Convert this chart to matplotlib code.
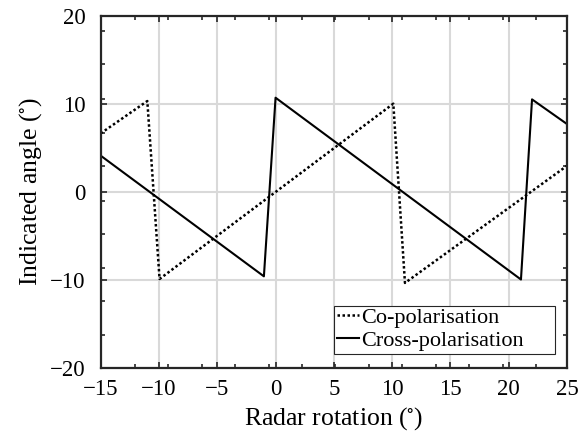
import matplotlib
matplotlib.use("Agg")
import matplotlib.pyplot as plt
from matplotlib.patches import Rectangle
from matplotlib.ticker import FixedLocator

plt.rcParams["font.family"] = ["Liberation Serif", "DejaVu Serif"]
plt.rcParams["mathtext.fontset"] = "stix"
plt.rcParams["axes.unicode_minus"] = True

# Co-polarisation (dotted) vertices
co_x = [-15, -11.0, -9.95, 10.1, 11.1, 25]
co_y = [6.63, 10.3, -9.9, 10.0, -10.35, 2.95]

# Cross-polarisation (solid) vertices
cross_x = [-15, -1.0, 0.0, 21.05, 22.0, 25]
cross_y = [4.1, -9.6, 10.68, -9.96, 10.49, 7.69]

x_major = [-15, -10, -5, 0, 5, 10, 15, 20, 25]
y_major = [-20, -10, 0, 10, 20]
x_minor = [-12.08, -9.21, -6.34, -3.47, -0.6, 2.27, 5.14, 8.01,
           10.88, 13.75, 16.62, 19.49, 22.36]
y_minor = [18.28, 14.56, 10.57, 6.65, 2.96, -1.03, -4.75, -8.63,
           -12.43, -16.23]

fig = plt.figure(figsize=(5.8, 4.46), dpi=100)
ax = fig.add_axes([0.1736, 0.175, 0.8040, 0.790])

ax.plot(co_x, co_y, color="black", lw=1.8, linestyle=(0, (1, 1)),
        label="Co-polarisation")
ax.plot(cross_x, cross_y, color="black", lw=1.5, label="Cross-polarisation")

ax.set_xlim(-15, 25)
ax.set_ylim(-20, 20)
ax.xaxis.set_major_locator(FixedLocator(x_major))
ax.yaxis.set_major_locator(FixedLocator(y_major))
ax.xaxis.set_minor_locator(FixedLocator(x_minor))
ax.yaxis.set_minor_locator(FixedLocator(y_minor))

ax.grid(True, which="major", color="#d9d9d9", lw=1.5)
ax.set_axisbelow(True)

for s in ax.spines.values():
    s.set_color("#262626")
    s.set_linewidth(1.6)

ax.tick_params(which="both", direction="in", top=True, right=True,
               color="#262626", labelsize=16.5)
ax.tick_params(which="major", length=4, width=1.2)
ax.tick_params(which="minor", length=3, width=1.2)
ax.tick_params(axis="x", pad=8)
ax.tick_params(axis="y", pad=11)

ax.set_xlabel(r"Radar rotation ($\!^\circ\!$)", fontsize=18.5, labelpad=4)
ax.set_ylabel(r"Indicated angle ($\!^\circ\!$)", fontsize=18.5, labelpad=4)

# matlab-style legend: wide box drawn separately, entries without frame
box = Rectangle((0.501, 0.040), 0.474, 0.136, transform=ax.transAxes,
                facecolor="white", edgecolor="#262626", lw=0.8, zorder=4)
ax.add_patch(box)
leg = ax.legend(loc="upper left", bbox_to_anchor=(0.507, 0.172),
                fontsize=16, frameon=False, handlelength=1.0,
                handletextpad=0.1, borderpad=0.0, borderaxespad=0.0,
                labelspacing=0.1)
leg.set_zorder(5)

fig.savefig("out.png", dpi=100)
